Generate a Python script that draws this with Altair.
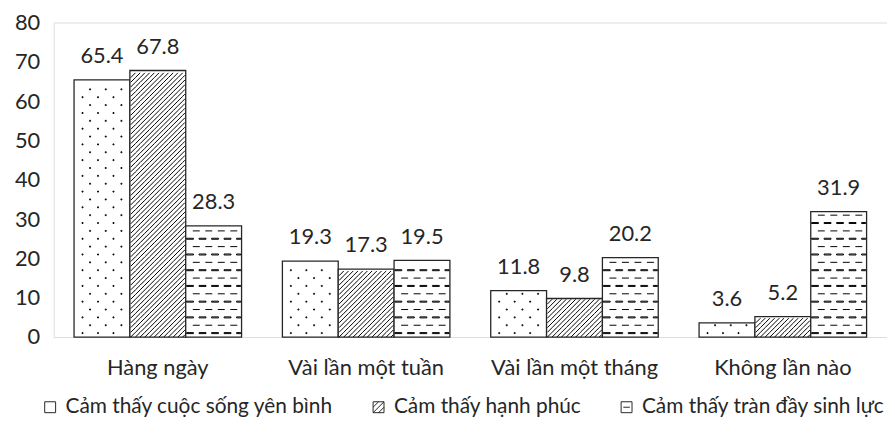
import altair as alt
import pandas as pd

# ---------------- data ----------------
categories = ["Hàng ngày", "Vài lần một tuần", "Vài lần một tháng", "Không lần nào"]
series = ["Cảm thấy cuộc sống yên bình", "Cảm thấy hạnh phúc", "Cảm thấy tràn đầy sinh lực"]
peaceful = [65.4, 19.3, 11.8, 3.6]
happy = [67.8, 17.3, 9.8, 5.2]
energetic = [28.3, 19.5, 20.2, 31.9]
y_ticks = [0, 10, 20, 30, 40, 50, 60, 70, 80]

# ---------------- layout / style ----------------
W, H = 840, 317
Y_MAX = 80
PX = H / Y_MAX
FONT = "Lato"
INK = "#262626"
FRAME = "#bfbfbf"
HALF = 27.3  # half of the pattern width inside a bar (px)


def f(v):
    return f"{v:.2f}"


# dotted pattern (rows, staggered)
def dots_path(xs):
    return "".join(f"M{f(x - 0.5)},-0.5h1v1h-1Z" for x in xs)


DOT_STEP = 2.0
DOT_A = dots_path([-19.6, -4.0, 11.6])
DOT_B = dots_path([-12.0, 3.8, 19.6])

# diagonal hatch pattern
HATCH_STEP = 1.2
HH = HATCH_STEP * PX


def hatch_path():
    segs = []
    a = -HALF - HH
    while a < HALF:
        x1, x2 = max(a, -HALF), min(a + HH, HALF)
        if x2 - x1 > 0.2:
            y1 = HH / 2 - (x1 - a)
            y2 = HH / 2 - (x2 - a)
            segs.append(f"M{f(x1)},{f(y1)}L{f(x2)},{f(y2)}")
        a += HH
    return "".join(segs)


HATCH = hatch_path()

# dashed pattern
DASH_STEP = 2.0
PERIOD, DASH = 12.6, 7.0


def dash_path(offset, bold):
    segs = []
    x = -HALF + offset - PERIOD
    while x < HALF:
        x1, x2 = max(x, -HALF), min(x + DASH, HALF)
        if x2 - x1 > 1.5:
            if bold:
                segs.append(f"M{f(x1)},-0.5H{f(x2)}V0.5H{f(x1)}Z")
            else:
                segs.append(f"M{f(x1)},0H{f(x2)}")
        x += PERIOD
    return "".join(segs)


DASH_A = dash_path(0.0, True)
DASH_B = dash_path(PERIOD / 2, False)

pat_keys = ["dotA", "dotB", "hatch", "dashA", "dashB"]
pat_paths = [DOT_A, DOT_B, HATCH, DASH_A, DASH_B]

# ---------------- tables ----------------
rows = []
for s, vals in zip(series, [peaceful, happy, energetic]):
    for c, v in zip(categories, vals):
        rows.append({"cat": c, "ser": s, "val": v, "label": f"{v:.1f}"})
df = pd.DataFrame(rows)

prow = []
for s, vals, kind in zip(series, [peaceful, happy, energetic], ["dot", "hatch", "dash"]):
    for c, v in zip(categories, vals):
        k = 0
        if kind == "hatch":
            while (k + 1) * HATCH_STEP <= v:
                prow.append({"cat": c, "ser": s, "y": (k + 0.5) * HATCH_STEP, "pat": "hatch"})
                k += 1
        elif kind == "dot":
            while (k + 0.5) * DOT_STEP + 0.4 < v:
                prow.append({"cat": c, "ser": s, "y": (k + 0.5) * DOT_STEP,
                             "pat": "dotA" if k % 2 == 0 else "dotB"})
                k += 1
        else:
            while (k + 0.5) * DASH_STEP + 0.5 < v:
                prow.append({"cat": c, "ser": s, "y": (k + 0.5) * DASH_STEP,
                             "pat": "dashA" if k % 2 == 0 else "dashB"})
                k += 1
pdf = pd.DataFrame(prow)

# ---------------- encodings ----------------
x_enc = alt.X(
    "cat:N",
    sort=categories,
    scale=alt.Scale(domain=categories, paddingInner=0.196, paddingOuter=0.098),
    axis=alt.Axis(title=None, labelAngle=0, ticks=False, domain=False, labelPadding=21,
                  labelFont=FONT, labelFontSize=22, labelColor=INK),
)
xoff = alt.XOffset("ser:N", scale=alt.Scale(domain=series, paddingInner=0, paddingOuter=0))
y_scale = alt.Scale(domain=[0, Y_MAX], nice=False, zero=True)
y_axis = alt.Axis(values=y_ticks, title=None, ticks=False, domain=False, grid=False,
                  labelPadding=14, labelFont=FONT, labelFontSize=22, labelColor=INK)

bars = alt.Chart(df).mark_bar(fill="white", stroke=INK, strokeWidth=1.3).encode(
    x=x_enc, xOffset=xoff, y=alt.Y("val:Q", scale=y_scale, axis=y_axis)
)

patterns = alt.Chart(pdf).mark_point(
    filled=False, color="black", strokeWidth=1, size=4, opacity=1
).encode(
    x=x_enc, xOffset=xoff, y=alt.Y("y:Q", scale=y_scale, axis=y_axis),
    shape=alt.Shape("pat:N", scale=alt.Scale(domain=pat_keys, range=pat_paths), legend=None),
)

labels = alt.Chart(df).mark_text(
    dy=-17, baseline="alphabetic", font=FONT, fontSize=22, color=INK
).encode(
    x=x_enc, xOffset=xoff, y=alt.Y("val:Q", scale=y_scale, axis=y_axis), text="label:N"
)

legend_paths = [
    "M-1,-1H1V1H-1Z",
    "M-1,-1H1V1H-1ZM-1,0L0,-1M-1,1L1,-1M0,1L1,0",
    "M-1,-1H1V1H-1ZM-0.6,0H0.6",
]
legend_layer = alt.Chart(df).mark_point(
    filled=False, color=INK, strokeWidth=1, opacity=1
).encode(
    x=x_enc, xOffset=xoff, y=alt.Y("val:Q", scale=y_scale, axis=y_axis),
    shape=alt.Shape(
        "ser:N",
        scale=alt.Scale(domain=series, range=legend_paths),
        legend=alt.Legend(
            title=None, orient="none", legendX=-14, legendY=377, direction="horizontal",
            symbolSize=121, symbolStrokeWidth=1, symbolStrokeColor=INK,
            labelFont=FONT, labelFontSize=21, labelColor=INK, labelOffset=5,
            labelLimit=0, columnPadding=35, padding=0,
        ),
    ),
).transform_filter("false")

chart = (
    alt.layer(bars, patterns, labels, legend_layer)
    .resolve_scale(shape="independent")
    .properties(
        width=W, height=H,
        autosize=alt.AutoSizeParams(type="none"),
        padding={"left": 46, "top": 13, "right": 0, "bottom": 86},
    )
    .configure_view(stroke=FRAME, strokeWidth=1)
    .configure(background="white")
)

chart.save("out.html", embed_options={"renderer": "svg", "actions": False})
